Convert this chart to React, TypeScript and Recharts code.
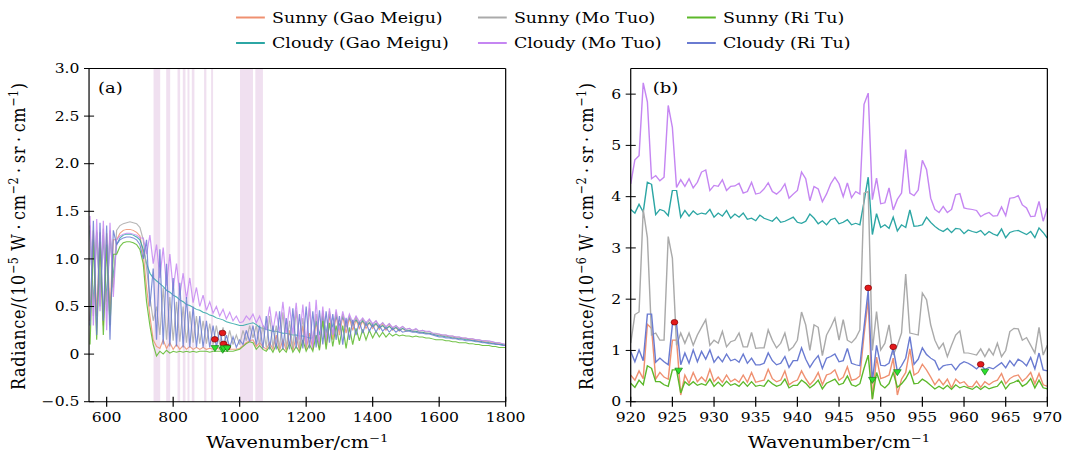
import React from "react";
import { ComposedChart, Line, XAxis, YAxis, ReferenceArea, ReferenceLine, Scatter } from "recharts";

// the source figure is stretched horizontally, so the whole thing is drawn narrow and scaled
const S = 1.2;
const W0 = 1065 / S;
const FONT = "DejaVu Serif";

const SERIES = [
  { key: "sunnyGM", name: "Sunny (Gao Meigu)", color: "#ef9070" },
  { key: "cloudyGM", name: "Cloudy (Gao Meigu)", color: "#2ca6a4" },
  { key: "sunnyMT", name: "Sunny (Mo Tuo)", color: "#aaaaaa" },
  { key: "cloudyMT", name: "Cloudy (Mo Tuo)", color: "#c586f2" },
  { key: "sunnyRT", name: "Sunny (Ri Tu)", color: "#5cb82a" },
  { key: "cloudyRT", name: "Cloudy (Ri Tu)", color: "#6a7bd1" },
];

// ---- panel (a): 550–1800 cm-1, every 10 cm-1, units 1e-5
const WN_A = Array.from({ length: 126 }, (_, i) => 550 + 10 * i);

const A_SUNNY_GM = [
  0.35, 1.3, 0.4, 1.28, 0.3, 1.27, 0.45, 1.2,
  1.2, 1.27, 1.3, 1.31, 1.31, 1.3, 1.28, 1.24,
  1.05, 0.7, 0.4, 0.15, 0.08,
  0.06, 0.15, 0.06, 0.12, 0.05, 0.1, 0.05, 0.09, 0.05, 0.08, 0.05, 0.07, 0.05, 0.07, 0.05, 0.06, 0.05, 0.06, 0.05, 0.06, 0.05, 0.05, 0.05, 0.05, 0.06,
  0.09, 0.12, 0.14, 0.15, 0.08, 0.12, 0.08,
  0.05, 0.12, 0.05, 0.2, 0.04, 0.15, 0.04, 0.25, 0.04, 0.18, 0.04, 0.3, 0.05, 0.22, 0.05, 0.35, 0.06,
  0.43, 0.1, 0.42, 0.15, 0.41, 0.2, 0.4, 0.22, 0.38, 0.25, 0.36, 0.27, 0.35, 0.27, 0.33, 0.27, 0.32, 0.26, 0.31, 0.25, 0.3, 0.25, 0.28, 0.24, 0.27, 0.24,
  0.25, 0.24, 0.24, 0.23, 0.23, 0.22, 0.22, 0.21, 0.2, 0.2, 0.19, 0.19, 0.18, 0.18, 0.17, 0.17, 0.16, 0.16, 0.15, 0.15, 0.14, 0.14, 0.13, 0.13, 0.12, 0.12, 0.11, 0.11, 0.1, 0.1,
];
const A_CLOUDY_GM = [
  1.3, 0.5, 1.28, 0.6, 1.25, 0.55, 1.25, 0.8,
  1.15, 1.22, 1.25, 1.26, 1.26, 1.25, 1.23, 1.2,
  1.1, 0.95, 0.85, 0.8, 0.77,
  0.74, 0.71, 0.67, 0.65, 0.62, 0.6, 0.57, 0.55, 0.52, 0.51, 0.49, 0.47, 0.46, 0.44, 0.43, 0.41, 0.4, 0.38, 0.37, 0.36, 0.34, 0.33, 0.32, 0.31, 0.3,
  0.3, 0.31, 0.32, 0.33, 0.31, 0.28, 0.27,
  0.26, 0.25, 0.24, 0.24, 0.23, 0.22, 0.22, 0.21, 0.2, 0.2, 0.19, 0.19, 0.18, 0.17, 0.17, 0.35, 0.2,
  0.4, 0.22, 0.42, 0.28, 0.4, 0.3, 0.39, 0.32, 0.38, 0.32, 0.36, 0.31, 0.35, 0.3, 0.33, 0.29, 0.32, 0.28, 0.3, 0.27, 0.29, 0.26, 0.28, 0.25, 0.27, 0.25,
  0.25, 0.24, 0.24, 0.23, 0.23, 0.22, 0.22, 0.21, 0.2, 0.19, 0.19, 0.18, 0.18, 0.17, 0.17, 0.16, 0.16, 0.15, 0.15, 0.14, 0.14, 0.13, 0.13, 0.12, 0.12, 0.11, 0.11, 0.1, 0.1, 0.09,
];
const A_SUNNY_MT = [
  1.35, 0.4, 1.3, 0.5, 1.32, 0.45, 1.3, 0.7,
  1.3, 1.35, 1.37, 1.38, 1.39, 1.38, 1.37, 1.33,
  1.2, 0.9, 0.6, 0.35, 0.5,
  0.2, 0.7, 0.15, 0.6, 0.14, 0.55, 0.13, 0.5, 0.12, 0.45, 0.12, 0.4, 0.11, 0.35, 0.11, 0.32, 0.1, 0.3, 0.1, 0.28, 0.1, 0.25, 0.1, 0.2, 0.1,
  0.25, 0.14, 0.3, 0.17, 0.3, 0.1, 0.3,
  0.07, 0.4, 0.07, 0.3, 0.06, 0.44, 0.06, 0.35, 0.06, 0.46, 0.06, 0.38, 0.07, 0.48, 0.08, 0.42, 0.1,
  0.46, 0.15, 0.45, 0.2, 0.44, 0.25, 0.42, 0.28, 0.4, 0.3, 0.39, 0.31, 0.37, 0.3, 0.36, 0.3, 0.35, 0.29, 0.33, 0.28, 0.32, 0.27, 0.3, 0.26, 0.29, 0.26,
  0.27, 0.25, 0.26, 0.24, 0.25, 0.23, 0.24, 0.22, 0.22, 0.21, 0.2, 0.2, 0.19, 0.19, 0.18, 0.18, 0.17, 0.17, 0.16, 0.16, 0.15, 0.15, 0.14, 0.14, 0.13, 0.13, 0.12, 0.12, 0.11, 0.1,
];
const A_CLOUDY_MT = [
  1.45, 0.3, 1.42, 0.45, 1.4, 0.25, 1.38, 0.6,
  1.2, 1.24, 1.26, 1.27, 1.27, 1.26, 1.25, 1.22,
  1.22, 1.05, 1.25, 0.95, 1.15,
  0.8, 1.12, 0.72, 1.05, 0.68, 0.95, 0.62, 0.85, 0.58, 0.8, 0.54, 0.7, 0.5, 0.62, 0.46, 0.55, 0.43, 0.5, 0.4, 0.47, 0.37, 0.44, 0.35, 0.4, 0.33,
  0.34, 0.4, 0.36, 0.42, 0.33, 0.4, 0.3,
  0.26, 0.5, 0.24, 0.45, 0.23, 0.55, 0.22, 0.5, 0.21, 0.54, 0.15, 0.52, 0.1, 0.55, 0.06, 0.57, 0.08,
  0.5, 0.12, 0.48, 0.2, 0.47, 0.25, 0.45, 0.3, 0.42, 0.33, 0.4, 0.34, 0.38, 0.33, 0.37, 0.32, 0.35, 0.3, 0.33, 0.29, 0.32, 0.28, 0.3, 0.27, 0.29, 0.26,
  0.27, 0.25, 0.27, 0.24, 0.25, 0.24, 0.24, 0.22, 0.21, 0.21, 0.2, 0.2, 0.19, 0.19, 0.18, 0.18, 0.17, 0.17, 0.16, 0.16, 0.15, 0.15, 0.14, 0.14, 0.14, 0.13, 0.12, 0.12, 0.11, 0.1,
];
const A_SUNNY_RT = [
  0.1, 1.2, 0.15, 1.18, 0.2, 1.15, 0.3, 1.05,
  1.05, 1.13, 1.17, 1.18, 1.18, 1.17, 1.15, 1.1,
  0.95, 0.55, 0.3, 0.1, -0.02,
  0.03, 0.0, 0.04, 0.01, 0.03, 0.02, 0.03, 0.02, 0.03, 0.02, 0.03, 0.02, 0.03, 0.03, 0.03, 0.02, 0.03, 0.03, 0.03, 0.03, 0.03, 0.03, 0.03, 0.04, 0.05,
  0.08, 0.11, 0.13, 0.12, 0.05, 0.09, 0.05,
  0.03, 0.08, 0.02, 0.1, 0.02, 0.06, 0.02, 0.12, 0.02, 0.08, 0.02, 0.15, 0.03, 0.1, 0.03, 0.2, 0.04,
  0.35, 0.05, 0.33, 0.08, 0.3, 0.1, 0.3, 0.06, 0.28, 0.1, 0.27, 0.14, 0.26, 0.15, 0.25, 0.17, 0.24, 0.18, 0.23, 0.18, 0.22, 0.19, 0.21, 0.19, 0.2, 0.19,
  0.19, 0.18, 0.19, 0.18, 0.18, 0.17, 0.17, 0.16, 0.15, 0.15, 0.15, 0.14, 0.14, 0.13, 0.13, 0.12, 0.12, 0.12, 0.11, 0.11, 0.1, 0.1, 0.09, 0.09, 0.09, 0.08, 0.08, 0.07, 0.07, 0.07,
];
const A_CLOUDY_RT = [
  0.3, 1.4, 0.2, 1.38, 0.35, 1.35, 0.15, 1.3,
  1.15, 1.2, 1.22, 1.23, 1.23, 1.22, 1.2, 1.15,
  1.0, 1.2, 0.5, 0.9, 0.15,
  1.1, 0.1, 0.95, 0.08, 0.8, 0.08, 0.75, 0.07, 0.6, 0.07, 0.5, 0.07, 0.4, 0.07, 0.35, 0.07, 0.3, 0.07, 0.25, 0.08, 0.2, 0.07, 0.18, 0.07, 0.15,
  0.1, 0.25, 0.13, 0.3, 0.1, 0.3, 0.06,
  0.4, 0.05, 0.3, 0.05, 0.45, 0.05, 0.38, 0.05, 0.48, 0.06, 0.42, 0.06, 0.5, 0.06, 0.45, 0.07, 0.46,
  0.1, 0.45, 0.12, 0.42, 0.15, 0.4, 0.1, 0.38, 0.15, 0.36, 0.2, 0.34, 0.22, 0.33, 0.24, 0.31, 0.23, 0.3, 0.24, 0.28, 0.23, 0.27, 0.23, 0.26, 0.23, 0.24,
  0.24, 0.23, 0.23, 0.22, 0.22, 0.21, 0.21, 0.2, 0.19, 0.18, 0.18, 0.17, 0.17, 0.16, 0.16, 0.15, 0.15, 0.14, 0.14, 0.14, 0.13, 0.13, 0.12, 0.12, 0.11, 0.11, 0.1, 0.1, 0.09, 0.09,
];

// shaded windows in panel (a)
const BAND_FROM = [741, 779, 813, 829, 843, 856, 893, 914, 1001, 1047];
const BAND_TO = [761, 791, 821, 837, 849, 864, 900, 920, 1040, 1070];

// selected channels
const PEAK_WN = [925.25, 948.5, 951.5, 962.0];
const PEAK_A = [0.155, 0.222, 0.107, 0.073];
const PEAK_B = [1.55, 2.22, 1.07, 0.73];
const TROUGH_WN = [925.75, 949.0, 952.0, 962.5];
const TROUGH_A = [0.06, 0.042, 0.057, 0.058];
const TROUGH_B = [0.6, 0.42, 0.57, 0.58];

// ---- panel (b): 920–970 cm-1, every 0.5 cm-1, units 1e-6
const WN_B = Array.from({ length: 101 }, (_, i) => 920 + 0.5 * i);

const B_CLOUDY_MT = [
  4.25, 4.72, 4.8, 6.22, 5.85, 4.35, 4.41, 4.31, 4.38, 5.78,
  5.35, 4.18, 4.33, 4.2, 4.35, 4.17, 4.28, 4.48, 4.52, 4.12,
  4.22, 4.2, 4.33, 4.12, 4.2, 4.21, 4.26, 4.07, 4.1, 4.28,
  4.05, 4.07, 4.15, 4.27, 4.1, 4.05, 4.12, 4.25, 3.97, 4.05,
  4.12, 4.48, 4.35, 3.92, 4.2, 4.15, 3.9, 4.05, 4.25, 4.38,
  4.25, 4.0, 4.27, 3.98, 4.1, 4.05, 5.8, 6.02, 3.94, 4.36,
  3.86, 3.88, 4.17, 3.74, 3.95, 4.07, 4.92, 4.07, 4.02, 4.13,
  4.71, 4.53, 3.97, 3.75, 3.69, 3.81, 3.69, 3.75, 4.04, 4.06,
  3.78, 3.76, 3.75, 3.73, 3.61, 3.66, 3.69, 3.62, 3.63, 3.8,
  3.63, 3.97, 3.98, 4.02, 3.84, 3.78, 3.61, 3.62, 3.91, 3.52,
  3.78,
];
const B_CLOUDY_GM = [
  3.75, 3.68, 3.85, 3.7, 4.28, 4.24, 3.65, 3.75, 3.72, 3.63,
  4.12, 4.12, 3.6, 3.73, 3.62, 3.72, 3.65, 3.68, 3.66, 3.75,
  3.6, 3.68, 3.62, 3.73, 3.58, 3.66, 3.6, 3.68, 3.56, 3.58,
  3.53, 3.64, 3.58, 3.55, 3.52, 3.6, 3.5, 3.52, 3.56, 3.6,
  3.5, 3.48, 3.52, 3.66, 3.58, 3.47, 3.53, 3.45, 3.55, 3.58,
  3.47, 3.5, 3.55, 3.45, 3.48, 3.45, 3.9, 4.38, 3.26, 3.67,
  3.4, 3.45, 3.38, 3.6, 3.33, 3.45, 3.4, 3.74, 3.42, 3.43,
  3.45, 3.6, 3.5, 3.42, 3.36, 3.32, 3.38, 3.3, 3.38, 3.37,
  3.28, 3.35, 3.32, 3.3, 3.34, 3.25, 3.32, 3.27, 3.24, 3.37,
  3.2, 3.3, 3.33, 3.34, 3.3, 3.26, 3.32, 3.2, 3.39, 3.3,
  3.19,
];
const B_SUNNY_MT = [
  1.14, 1.7, 1.75, 3.75, 3.2, 1.3, 1.34, 1.2, 1.2, 3.22,
  2.8, 1.1, 1.34, 1.14, 1.34, 1.1, 1.3, 1.45, 1.6, 1.1,
  1.2, 1.14, 1.37, 1.07, 1.17, 1.2, 1.34, 1.07, 1.07, 1.35,
  1.04, 1.05, 1.05, 1.4, 1.2, 1.05, 1.14, 1.34, 1.0, 1.07,
  1.2, 1.75, 1.5, 1.0, 1.5, 1.45, 0.9, 1.3, 1.45, 1.63,
  1.2, 1.6, 1.2, 1.15, 1.24, 1.4, 4.07, 4.1, 1.0, 1.76,
  1.01, 1.14, 1.5, 0.91, 1.1, 1.34, 2.49, 1.34, 1.32, 1.3,
  2.12, 1.99, 1.5, 1.2, 1.03, 1.14, 0.88, 1.1, 1.3, 1.38,
  0.95, 0.95, 0.93, 0.91, 1.03, 0.88, 1.03, 0.91, 1.14, 0.88,
  1.0, 1.37, 1.43, 1.42, 1.2, 1.25, 1.1, 0.95, 1.45, 0.91,
  1.1,
];
const B_CLOUDY_RT = [
  0.98, 0.78, 1.01, 0.8, 1.71, 1.71, 0.77, 0.85, 0.78, 0.72,
  1.5, 1.52, 0.72, 0.95, 0.75, 1.01, 0.78, 0.98, 0.83, 1.01,
  0.77, 0.88, 0.78, 0.93, 0.8, 0.83, 0.77, 0.93, 0.75, 0.85,
  0.72, 0.72, 0.75, 0.95, 0.8, 0.72, 0.75, 0.88, 0.67, 0.8,
  0.8, 1.05, 0.83, 0.67, 0.8, 0.9, 0.65, 0.85, 0.88, 0.93,
  0.78, 0.8, 1.04, 0.75, 0.72, 0.7, 1.45, 2.18, 0.39, 1.1,
  0.71, 0.7, 0.75, 1.04, 0.59, 0.7, 0.85, 1.27, 0.73, 0.83,
  1.05, 0.92, 0.85, 0.8, 0.62, 0.7, 0.72, 0.73, 0.62, 0.73,
  0.78, 0.75, 0.7, 0.64, 0.72, 0.63, 0.67, 0.64, 0.7, 0.76,
  0.66, 0.8, 0.7, 0.83, 0.78, 0.7, 0.86, 0.64, 0.95, 0.62,
  0.6,
];
const B_SUNNY_GM = [
  0.52, 0.42, 0.6, 0.45, 1.51, 1.43, 0.44, 0.57, 0.48, 0.44,
  1.2, 1.2, 0.13, 0.52, 0.36, 0.57, 0.39, 0.48, 0.39, 0.63,
  0.39, 0.48, 0.38, 0.52, 0.39, 0.44, 0.38, 0.52, 0.38, 0.57,
  0.38, 0.4, 0.42, 0.63, 0.45, 0.39, 0.42, 0.6, 0.33, 0.39,
  0.42, 0.6, 0.45, 0.33, 0.42, 0.57, 0.33, 0.52, 0.55, 0.62,
  0.42, 0.48, 0.68, 0.42, 0.44, 0.5, 1.3, 1.99, 0.05, 0.87,
  0.45, 0.48, 0.52, 0.85, 0.13, 0.44, 0.57, 1.03, 0.52, 0.57,
  0.73, 0.62, 0.48, 0.33, 0.44, 0.33, 0.44, 0.27, 0.44, 0.36,
  0.39, 0.3, 0.29, 0.4, 0.28, 0.39, 0.33, 0.39, 0.42, 0.55,
  0.35, 0.45, 0.5, 0.52, 0.4, 0.47, 0.57, 0.35, 0.55, 0.33,
  0.3,
];
const B_SUNNY_RT = [
  0.36, 0.28, 0.42, 0.33, 0.7, 0.65, 0.39, 0.39, 0.33, 0.3,
  0.62, 0.62, 0.17, 0.39, 0.32, 0.39, 0.32, 0.35, 0.32, 0.44,
  0.3, 0.38, 0.3, 0.4, 0.32, 0.35, 0.3, 0.39, 0.3, 0.39,
  0.3, 0.32, 0.3, 0.42, 0.35, 0.3, 0.33, 0.44, 0.27, 0.32,
  0.32, 0.42, 0.36, 0.27, 0.33, 0.42, 0.25, 0.36, 0.4, 0.44,
  0.33, 0.36, 0.5, 0.33, 0.3, 0.35, 0.65, 0.91, 0.05, 0.57,
  0.33, 0.27, 0.35, 0.57, 0.28, 0.35, 0.45, 0.6, 0.35, 0.36,
  0.44, 0.39, 0.32, 0.25, 0.3, 0.25, 0.32, 0.24, 0.33, 0.27,
  0.3, 0.27, 0.24, 0.3, 0.24, 0.3, 0.25, 0.28, 0.3, 0.4,
  0.25, 0.35, 0.38, 0.42, 0.3, 0.35, 0.45, 0.27, 0.42, 0.27,
  0.25,
];

const X_TICKS_A = [600, 800, 1000, 1200, 1400, 1600, 1800];
const Y_TICKS_A = [-0.5, 0, 0.5, 1.0, 1.5, 2.0, 2.5, 3.0];
const X_TICKS_B = [920, 925, 930, 935, 940, 945, 950, 955, 960, 965, 970];
const Y_TICKS_B = [0, 1, 2, 3, 4, 5, 6];

const rowsA = WN_A.map((x, i) => ({
  x,
  sunnyGM: A_SUNNY_GM[i],
  cloudyGM: A_CLOUDY_GM[i],
  sunnyMT: A_SUNNY_MT[i],
  cloudyMT: A_CLOUDY_MT[i],
  sunnyRT: A_SUNNY_RT[i],
  cloudyRT: A_CLOUDY_RT[i],
}));
const rowsB = WN_B.map((x, i) => ({
  x,
  sunnyGM: B_SUNNY_GM[i],
  cloudyGM: B_CLOUDY_GM[i],
  sunnyMT: B_SUNNY_MT[i],
  cloudyMT: B_CLOUDY_MT[i],
  sunnyRT: B_SUNNY_RT[i],
  cloudyRT: B_CLOUDY_RT[i],
}));
const peaksA = PEAK_WN.map((x, i) => ({ x, y: PEAK_A[i] }));
const troughsA = TROUGH_WN.map((x, i) => ({ x, y: TROUGH_A[i] }));
const peaksB = PEAK_WN.map((x, i) => ({ x, y: PEAK_B[i] }));
const troughsB = TROUGH_WN.map((x, i) => ({ x, y: TROUGH_B[i] }));

const fmtA = (v: number) => (v === 0 ? "0" : v < 0 ? "\u2212" + Math.abs(v).toFixed(1) : v.toFixed(1));
const fmtInt = (v: number) => String(v);

const TICK_FS = 13;

const XTick = (fmt: (v: number) => string) => (p: any) => (
  <g>
    <line x1={p.x} x2={p.x} y1={p.y - 5} y2={p.y + 5} stroke="#000" strokeWidth={1} />
    <text x={p.x} y={p.y + 20.6} textAnchor="middle" fontFamily={FONT} fontSize={TICK_FS} fill="#000">
      {fmt(p.payload.value)}
    </text>
  </g>
);
const YTick = (fmt: (v: number) => string) => (p: any) => (
  <g>
    <line x1={p.x - 4.2} x2={p.x + 4.2} y1={p.y} y2={p.y} stroke="#000" strokeWidth={1} />
    <text x={p.x - 8} y={p.y} dy="0.36em" textAnchor="end" fontFamily={FONT} fontSize={TICK_FS} fill="#000">
      {fmt(p.payload.value)}
    </text>
  </g>
);

const RedDot = (p: any) => (
  <circle cx={p.cx} cy={p.cy} r={2.8} fill="#e31a1c" stroke="#7a0000" strokeWidth={0.6} />
);
const GreenTri = (p: any) => (
  <polygon
    points={`${p.cx - 3.2},${p.cy - 2.8} ${p.cx + 3.2},${p.cy - 2.8} ${p.cx},${p.cy + 3.2}`}
    fill="#2ee02e"
    stroke="#137a13"
    strokeWidth={0.6}
  />
);

function Panel(props: {
  rows: any[];
  width: number;
  yWidth: number;
  right: number;
  xDomain: [number, number];
  yDomain: [number, number];
  xTicks: number[];
  yTicks: number[];
  yFmt: (v: number) => string;
  peaks: any[];
  troughs: any[];
  lineWidth: number;
  opacity: number;
  bands?: boolean;
}) {
  return (
    <ComposedChart
      width={props.width}
      height={455}
      data={props.rows}
      margin={{ top: 68.5, right: props.right, bottom: 0, left: 0 }}
    >
      {props.bands &&
        BAND_FROM.map((b, i) => (
          <ReferenceArea
            key={"band" + i}
            x1={b}
            x2={BAND_TO[i]}
            y1={props.yDomain[0]}
            y2={props.yDomain[1]}
            fill="#800080"
            fillOpacity={0.12}
            stroke="none"
          />
        ))}
      <XAxis
        dataKey="x"
        type="number"
        domain={props.xDomain}
        ticks={props.xTicks}
        allowDataOverflow
        height={53.3}
        tickLine={false}
        tickSize={0}
        tickMargin={0}
        interval={0}
        axisLine={{ stroke: "#000", strokeWidth: 1 }}
        tick={XTick(fmtInt)}
      />
      <YAxis
        type="number"
        domain={props.yDomain}
        ticks={props.yTicks}
        allowDataOverflow
        width={props.yWidth}
        tickLine={false}
        tickSize={0}
        tickMargin={0}
        interval={0}
        axisLine={{ stroke: "#000", strokeWidth: 1 }}
        tick={YTick(props.yFmt)}
      />
      {SERIES.map((s) => (
        <Line
          key={s.key}
          dataKey={s.key}
          type="linear"
          stroke={s.color}
          strokeWidth={props.lineWidth}
          strokeOpacity={props.opacity}
          dot={false}
          activeDot={false}
          isAnimationActive={false}
        />
      ))}
      <Scatter data={props.peaks} dataKey="y" shape={RedDot} isAnimationActive={false} />
      <Scatter data={props.troughs} dataKey="y" shape={GreenTri} isAnimationActive={false} />
      <ReferenceLine x={props.xDomain[1]} stroke="#000" strokeWidth={1} />
      <ReferenceLine y={props.yDomain[1]} stroke="#000" strokeWidth={1} />
    </ComposedChart>
  );
}

// spans y 83 → 390 in the reference
function YLabel({ x, exp }: { x: number; exp: string }) {
  return (
    <text
      transform={`translate(${x},236.5) rotate(-90)`}
      textAnchor="middle"
      fontFamily={FONT}
      fontSize={16}
      textLength={307}
      lengthAdjust="spacing"
      fill="#000"
    >
      Radiance/(10
      <tspan dy={-6} fontSize={11}>{exp}</tspan>
      <tspan dy={6}>{" W\u2009\u00b7\u2009cm"}</tspan>
      <tspan dy={-6} fontSize={11}>{"\u22122"}</tspan>
      <tspan dy={6}>{"\u2009\u00b7\u2009sr\u2009\u00b7\u2009cm"}</tspan>
      <tspan dy={-6} fontSize={11}>{"\u22121"}</tspan>
      <tspan dy={6}>)</tspan>
    </text>
  );
}

function XLabel({ x }: { x: number }) {
  return (
    <text x={x} y={448} textAnchor="middle" fontFamily={FONT} fontSize={16} fill="#000">
      Wavenumber/cm
      <tspan dy={-6} fontSize={11}>{"\u22121"}</tspan>
    </text>
  );
}

const LEGEND_COLS = [196.7, 398.3, 572.5];
const LEGEND_ROWS = [17.5, 43];

export default function App() {
  // legend is laid out column-major like matplotlib with ncol=3
  const legendItems = SERIES.map((s, i) => ({
    ...s,
    lx: LEGEND_COLS[Math.floor(i / 2)],
    ly: LEGEND_ROWS[i % 2],
  }));
  return (
    <div
      style={{
        position: "absolute",
        left: 0,
        top: 0,
        width: 1065,
        height: 455,
        overflow: "hidden",
        background: "#fff",
      }}
    >
      <div
        style={{
          position: "absolute",
          left: 0,
          top: 0,
          width: W0,
          height: 455,
          transform: `scaleX(${S})`,
          transformOrigin: "0 0",
        }}
      >
        <div style={{ position: "absolute", left: 0, top: 0 }}>
          <Panel
            rows={rowsA}
            width={440}
            yWidth={74.2}
            right={18.6}
            xDomain={[547, 1800]}
            yDomain={[-0.5, 3]}
            xTicks={X_TICKS_A}
            yTicks={Y_TICKS_A}
            yFmt={fmtA}
            peaks={peaksA}
            troughs={troughsA}
            lineWidth={1}
            opacity={0.85}
            bands
          />
        </div>
        <div style={{ position: "absolute", left: 440, top: 0 }}>
          <Panel
            rows={rowsB}
            width={447.5}
            yWidth={85.6}
            right={14.7}
            xDomain={[920, 970]}
            yDomain={[0, 6.5]}
            xTicks={X_TICKS_B}
            yTicks={Y_TICKS_B}
            yFmt={fmtInt}
            peaks={peaksB}
            troughs={troughsB}
            lineWidth={1.2}
            opacity={1}
          />
        </div>
        <svg
          width={W0}
          height={455}
          style={{ position: "absolute", left: 0, top: 0, pointerEvents: "none" }}
        >
          {legendItems.map((s) => (
            <g key={s.key}>
              <line x1={s.lx} x2={s.lx + 24} y1={s.ly} y2={s.ly} stroke={s.color} strokeWidth={2} />
              <text x={s.lx + 30} y={s.ly + 5.5} fontFamily={FONT} fontSize={14.5} fill="#000">
                {s.name}
              </text>
            </g>
          ))}
          <text x={81.7} y={93} fontFamily={FONT} fontSize={15} fill="#000">(a)</text>
          <text x={544} y={93} fontFamily={FONT} fontSize={15} fill="#000">(b)</text>
          <YLabel x={20.8} exp={"\u22125"} />
          <YLabel x={494.4} exp={"\u22126"} />
          <XLabel x={247.8} />
          <XLabel x={699.2} />
        </svg>
      </div>
    </div>
  );
}
